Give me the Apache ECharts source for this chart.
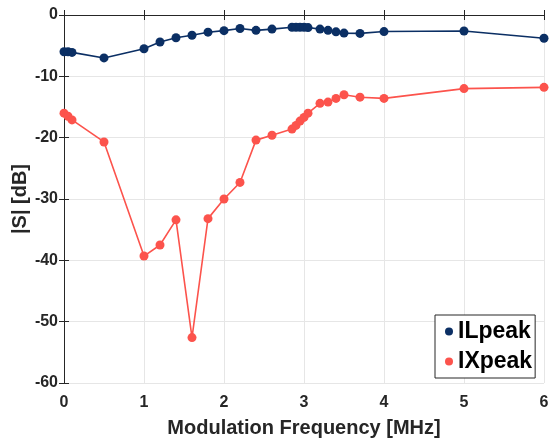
<!DOCTYPE html>
<html>
<head>
<meta charset="utf-8">
<script src="https://cdn.jsdelivr.net/npm/echarts@6/dist/echarts.min.js"></script>
<style>
html,body{margin:0;padding:0;background:#fff;}
#chart{width:553px;height:443px;}
</style>
</head>
<body>
<div id="chart"></div>
<script>
// Data
var freq = [0, 0.05, 0.1, 0.5, 1.0, 1.2, 1.4, 1.6, 1.8, 2.0, 2.2, 2.4, 2.6, 2.85, 2.9, 2.95, 3.0, 3.05, 3.2, 3.3, 3.4, 3.5, 3.7, 4.0, 5.0, 6.0];
var ilPeak = [-6.0, -6.0, -6.1, -7.0, -5.5, -4.4, -3.7, -3.3, -2.8, -2.55, -2.2, -2.5, -2.3, -2.0, -2.0, -2.0, -2.0, -2.05, -2.3, -2.5, -2.75, -2.95, -3.0, -2.7, -2.6, -3.8];
var ixPeak = [-16.0, -16.5, -17.1, -20.7, -39.3, -37.5, -33.4, -52.6, -33.2, -30.0, -27.3, -20.4, -19.6, -18.6, -18.0, -17.3, -16.7, -16.0, -14.4, -14.2, -13.6, -13.0, -13.4, -13.6, -12.0, -11.8];
var seriesNames = ['ILpeak', 'IXpeak'];
var xTicks = {min: 0, max: 6, interval: 1};
var yTicks = {min: -60, max: 0, interval: 10};
var xLabel = 'Modulation Frequency [MHz]';
var yLabel = '|S| [dB]';

function pairs(xs, ys){ return xs.map(function(x,i){ return [x, ys[i]]; }); }

var FONT = '"Liberation Sans", Arial, Helvetica, sans-serif';
var AX = '#262626';
var chart = echarts.init(document.getElementById('chart'), null, {renderer:'canvas'});
var lineStyleAxis = {show:true, lineStyle:{color:AX, width:1}};
chart.setOption({
  animation:false,
  backgroundColor:'#fff',
  grid:{left:64, right:9, top:15, bottom:60, containLabel:false, outerBoundsMode:'none'},
  legend:{
    orient:'vertical', left:435, top:315,
    padding:[5,3,5,10], itemGap:7, itemWidth:8, itemHeight:8,
    borderColor:'#262626', borderWidth:1, backgroundColor:'#fff',
    icon:'circle',
    textStyle:{fontFamily:FONT, fontSize:23, fontWeight:'bold', color:'#000', padding:[0,0,0,0]},
    data: seriesNames
  },
  xAxis:[{
    type:'value', min:xTicks.min, max:xTicks.max, interval:xTicks.interval,
    name:xLabel, nameLocation:'middle', nameGap:35, nameMoveOverlap:false,
    nameTextStyle:{fontFamily:FONT, fontSize:20, fontWeight:'bold', color:AX},
    axisLine:lineStyleAxis, axisTick:{show:true, inside:true, length:5, lineStyle:{color:AX}},
    axisLabel:{fontFamily:FONT, fontSize:16, fontWeight:'bold', color:AX, margin:12},
    splitLine:{show:true, lineStyle:{color:'#e6e6e6', width:1}}
  },{
    type:'value', position:'top', min:xTicks.min, max:xTicks.max, interval:xTicks.interval,
    axisLine:lineStyleAxis, axisTick:{show:true, inside:true, length:5, lineStyle:{color:AX}},
    axisLabel:{show:false}, splitLine:{show:false}
  }],
  yAxis:[{
    type:'value', min:yTicks.min, max:yTicks.max, interval:yTicks.interval,
    name:yLabel, nameLocation:'middle', nameGap:34, nameRotate:90, nameMoveOverlap:false,
    nameTextStyle:{fontFamily:FONT, fontSize:20, fontWeight:'bold', color:AX},
    axisLine:lineStyleAxis, axisTick:{show:true, inside:true, length:5, lineStyle:{color:AX}},
    axisLabel:{fontFamily:FONT, fontSize:16, fontWeight:'bold', color:AX, margin:6},
    splitLine:{show:true, lineStyle:{color:'#e6e6e6', width:1}}
  },{
    type:'value', position:'right', min:yTicks.min, max:yTicks.max, interval:yTicks.interval,
    axisLine:lineStyleAxis, axisTick:{show:true, inside:true, length:5, lineStyle:{color:AX}},
    axisLabel:{show:false}, splitLine:{show:false}
  }],
  series:[{
    name:seriesNames[0], type:'line', xAxisIndex:0, yAxisIndex:0,
    data:pairs(freq, ilPeak), symbol:'circle', symbolSize:9,
    lineStyle:{color:'#0b2f64', width:1.6}, itemStyle:{color:'#0b2f64'}, z:3
  },{
    name:seriesNames[1], type:'line', xAxisIndex:0, yAxisIndex:0,
    data:pairs(freq, ixPeak), symbol:'circle', symbolSize:9,
    lineStyle:{color:'#fc534c', width:1.6}, itemStyle:{color:'#fc534c'}, z:2
  }]
});
</script>
</body>
</html>
